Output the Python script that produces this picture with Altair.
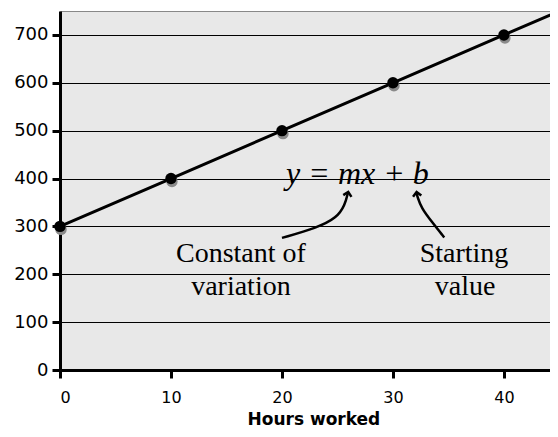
import altair as alt
import pandas as pd

# ---- data ----
hours = [0, 10, 20, 30, 40]
pay = [300, 400, 500, 600, 700]
line_hours = [0, 10, 20, 30, 40, 45]
line_pay = [300, 400, 500, 600, 700, 750]
x_ticks = [0, 10, 20, 30, 40]
y_ticks = [0, 100, 200, 300, 400, 500, 600, 700]

equation = ["y = mx + b"]
equation_x = [26.8]
equation_y = [388]

note_text = ["Constant of", "variation", "Starting", "value"]
note_x = [16.3, 16.3, 36.4, 36.5]
note_y = [225, 156, 225, 156]

arrow1_x = [20.0, 23.15, 24.95, 25.68, 25.95]
arrow1_y = [276, 297, 318, 345, 371]
arrow2_x = [34.62, 33.49, 32.58, 32.19, 32.13]
arrow2_y = [277, 310, 338, 362, 371]
head_x = [25.97, 32.13]
head_y = [372, 372]
head_angle = [12, 352]

xs = alt.Scale(domain=[0, 44.15], nice=False, zero=False)
ys = alt.Scale(domain=[0, 750], nice=False)

pts = pd.DataFrame({"h": hours, "p": pay})
ln = pd.DataFrame({"h": line_hours, "p": line_pay})

x_axis = alt.Axis(values=x_ticks, grid=False, domainColor="black", domainWidth=3,
                  tickColor="black", tickWidth=3, tickSize=8, labelFont="DejaVu Sans",
                  labelFontSize=16, labelColor="black", labelPadding=11,
                  title="Hours worked", titleFont="DejaVu Sans", titleFontSize=17,
                  titleFontWeight="bold", titleColor="black", titleX=187, titleY=54,
                  titleAlign="left", titleBaseline="alphabetic")
y_axis = alt.Axis(values=y_ticks, grid=True, gridColor="black", gridWidth=1,
                  domainColor="black", domainWidth=3, tickColor="black", tickWidth=3,
                  tickSize=8, labelFont="DejaVu Sans", labelFontSize=18,
                  labelColor="black", labelPadding=4, title=None)

base_line = alt.Chart(ln).mark_line(color="black", strokeWidth=3, clip=True).encode(
    x=alt.X("h:Q", scale=xs, axis=x_axis),
    y=alt.Y("p:Q", scale=ys, axis=y_axis),
)

shadow = alt.Chart(pts).mark_circle(color="#8a8a8a", opacity=1, size=130, xOffset=1, yOffset=3).encode(
    x=alt.X("h:Q", scale=xs), y=alt.Y("p:Q", scale=ys))
dots = alt.Chart(pts).mark_circle(color="black", opacity=1, size=130).encode(
    x=alt.X("h:Q", scale=xs), y=alt.Y("p:Q", scale=ys))

eq = alt.Chart(pd.DataFrame({"t": equation, "x": equation_x, "y": equation_y})).mark_text(
    font="Liberation Serif", fontStyle="italic", fontSize=32, color="black",
    align="center", baseline="alphabetic").encode(
    x=alt.X("x:Q", scale=xs), y=alt.Y("y:Q", scale=ys), text="t:N")

notes = alt.Chart(pd.DataFrame({"t": note_text, "x": note_x, "y": note_y})).mark_text(
    font="Liberation Serif", fontSize=28, color="black",
    align="center", baseline="alphabetic").encode(
    x=alt.X("x:Q", scale=xs), y=alt.Y("y:Q", scale=ys), text="t:N")

a1 = alt.Chart(pd.DataFrame({"x": arrow1_x, "y": arrow1_y, "i": list(range(len(arrow1_x)))})).mark_line(
    color="black", strokeWidth=2.5, interpolate="basis").encode(
    x=alt.X("x:Q", scale=xs), y=alt.Y("y:Q", scale=ys), order="i:Q")
a2 = alt.Chart(pd.DataFrame({"x": arrow2_x, "y": arrow2_y, "i": list(range(len(arrow2_x)))})).mark_line(
    color="black", strokeWidth=2.5, interpolate="basis").encode(
    x=alt.X("x:Q", scale=xs), y=alt.Y("y:Q", scale=ys), order="i:Q")
heads = alt.Chart(pd.DataFrame({"x": head_x, "y": head_y, "a": head_angle})).mark_point(
    shape="M-1,1L0,0L1,1", filled=False, color="black", strokeWidth=2.5, size=70, opacity=1).encode(
    x=alt.X("x:Q", scale=xs), y=alt.Y("y:Q", scale=ys), angle=alt.Angle("a:Q", scale=None))

chart = alt.layer(base_line, shadow, dots, eq, notes, a1, a2, heads).properties(
    width=490, height=359,
    autosize=alt.AutoSizeParams(type="none"),
    padding={"left": 52, "top": 3, "right": 0, "bottom": 59},
).configure_view(fill="#e8e8e8", stroke="#888", strokeWidth=1)

chart.save("out.html", embed_options={"renderer": "svg", "actions": False})
